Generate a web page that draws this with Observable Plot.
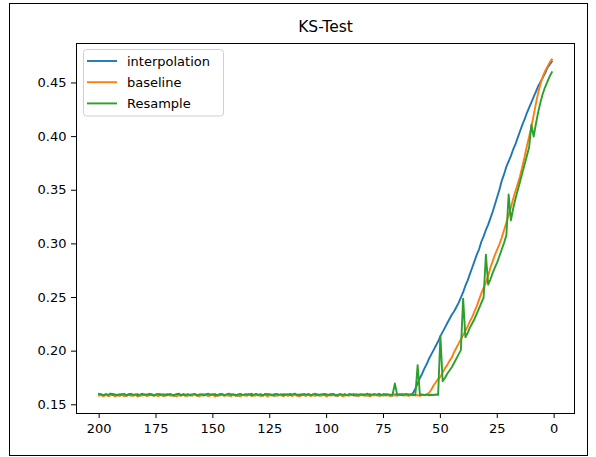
<!DOCTYPE html>
<html><head><meta charset="utf-8">
<script src="https://cdn.jsdelivr.net/npm/d3@7"></script>
<script src="https://cdn.jsdelivr.net/npm/@observablehq/plot@0.6"></script>
<style>
body{margin:0;background:#fff;}
#wrap{position:relative;width:596px;height:457px;}
#border{position:absolute;left:9px;top:3px;width:579px;height:453px;border:1px solid #000;box-sizing:border-box;pointer-events:none;}
</style></head>
<body><div id="wrap"><div id="border"></div></div>
<script>
const title = "KS-Test";
const seriesNames = ["interpolation", "baseline", "Resample"];
const colors = ["#1f77b4", "#ff7f0e", "#2ca02c"];
const xTicks = [200, 175, 150, 125, 100, 75, 50, 25, 0];
const yTicks = [0.15, 0.20, 0.25, 0.30, 0.35, 0.40, 0.45];
// x positions: 200 down to 1
const xValues = d3.range(200, 0, -1);

// interpolation (v = 200 .. 1)
const interpolation = [
0.1600,0.1594,0.1588,0.1597,0.1583,0.1591,0.1602,0.1589,0.1595,0.1586,
0.1598,0.1590,0.1584,0.1596,0.1601,0.1587,0.1593,0.1599,0.1585,0.1592,
0.1597,0.1588,0.1603,0.1591,0.1586,0.1595,0.1590,0.1599,0.1584,0.1593,
0.1600,0.1589,0.1594,0.1582,0.1597,0.1591,0.1587,0.1598,0.1593,0.1586,
0.1596,0.1590,0.1601,0.1585,0.1594,0.1589,0.1598,0.1592,0.1583,0.1596,
0.1591,0.1599,0.1587,0.1594,0.1602,0.1588,0.1593,0.1585,0.1597,0.1590,
0.1595,0.1584,0.1599,0.1592,0.1588,0.1596,0.1591,0.1603,0.1587,0.1594,
0.1589,0.1598,0.1585,0.1593,0.1600,0.1590,0.1595,0.1583,0.1597,0.1592,
0.1588,0.1599,0.1594,0.1586,0.1601,0.1591,0.1596,0.1589,0.1584,0.1598,
0.1593,0.1587,0.1600,0.1590,0.1595,0.1585,0.1597,0.1592,0.1589,0.1602,
0.1586,0.1594,0.1599,0.1588,0.1593,0.1584,0.1596,0.1591,0.1598,0.1587,
0.1595,0.1590,0.1601,0.1585,0.1594,0.1589,0.1597,0.1592,0.1586,0.1599,
0.1591,0.1596,0.1588,0.1603,0.1593,0.1587,0.1598,0.1590,0.1595,0.1584,
0.1597,0.1592,0.1589,0.1600,0.1594,0.1588,0.1596,0.1591,
0.161,0.165,0.170,0.175,0.179,0.184,0.188,0.193,0.197,0.201,
0.205,0.209,0.214,0.218,0.222,0.226,0.230,0.234,0.237,0.241,
0.245,0.250,0.255,0.261,0.266,0.272,0.278,0.284,0.290,0.295,
0.302,0.307,0.313,0.318,0.324,0.330,0.337,0.344,0.351,0.359,
0.365,0.372,0.377,0.382,0.388,0.393,0.399,0.405,0.411,0.416,
0.422,0.427,0.432,0.437,0.442,0.447,0.451,0.455,0.459,0.464,
0.467,0.470
];

// baseline (v = 200 .. 1)
const baseline = [
0.1585,0.1590,0.1579,0.1594,0.1582,0.1588,0.1596,0.1578,0.1591,0.1584,
0.1593,0.1580,0.1589,0.1597,0.1583,0.1587,0.1592,0.1577,0.1590,0.1586,
0.1595,0.1581,0.1588,0.1598,0.1584,0.1591,0.1579,0.1594,0.1587,0.1582,
0.1596,0.1589,0.1583,0.1592,0.1578,0.1590,0.1585,0.1597,0.1581,0.1588,
0.1593,0.1584,0.1599,0.1586,0.1580,0.1591,0.1587,0.1595,0.1582,0.1589,
0.1594,0.1578,0.1590,0.1585,0.1598,0.1583,0.1588,0.1592,0.1580,0.1596,
0.1586,0.1591,0.1579,0.1593,0.1588,0.1584,0.1597,0.1582,0.1590,0.1587,
0.1595,0.1581,0.1589,0.1594,0.1577,0.1591,0.1586,0.1598,0.1583,0.1588,
0.1592,0.1580,0.1596,0.1585,0.1590,0.1582,0.1594,0.1587,0.1579,0.1593,
0.1589,0.1584,0.1597,0.1581,0.1590,0.1586,0.1595,0.1583,0.1588,0.1592,
0.1578,0.1591,0.1585,0.1596,0.1582,0.1589,0.1594,0.1580,0.1587,0.1593,
0.1584,0.1598,0.1586,0.1590,0.1581,0.1595,0.1588,0.1583,0.1592,0.1579,
0.1590,0.1587,0.1596,0.1582,0.1589,0.1593,0.1585,0.1591,0.1580,0.1594,
0.1588,0.1584,0.1597,0.1590,0.1586,0.1592,0.1583,0.1589,0.1595,0.1587,
0.1591,0.1584,0.1593,0.1588,
0.160,0.161,0.164,0.168,0.171,0.174,0.176,0.180,0.184,0.187,
0.191,0.194,0.199,0.203,0.207,0.211,0.215,0.219,0.223,0.228,
0.232,0.237,0.242,0.248,0.254,0.259,0.264,0.270,0.278,0.284,
0.290,0.295,0.300,0.306,0.313,0.320,0.327,0.334,0.342,0.349,
0.356,0.363,0.372,0.381,0.391,0.400,0.409,0.420,0.431,0.441,
0.449,0.456,0.461,0.465,0.469,0.472
];

// Resample (v = 200 .. 1)
const resample = [
0.1602,0.1596,0.1590,0.1599,0.1593,0.1605,0.1591,0.1597,0.1588,0.1600,
0.1594,0.1603,0.1589,0.1596,0.1601,0.1592,0.1598,0.1587,0.1595,0.1603,
0.1590,0.1597,0.1593,0.1600,0.1588,0.1596,0.1602,0.1591,0.1598,0.1594,
0.1589,0.1601,0.1595,0.1592,0.1599,0.1604,0.1590,0.1596,0.1593,0.1600,
0.1587,0.1597,0.1602,0.1591,0.1595,0.1599,0.1589,0.1596,0.1603,0.1592,
0.1598,0.1594,0.1588,0.1601,0.1595,0.1590,0.1597,0.1604,0.1593,0.1599,
0.1586,0.1596,0.1601,0.1591,0.1598,0.1594,0.1600,0.1589,0.1595,0.1602,
0.1592,0.1597,0.1588,0.1603,0.1594,0.1599,0.1590,0.1596,0.1601,0.1593,
0.1598,0.1587,0.1595,0.1600,0.1591,0.1597,0.1604,0.1592,0.1596,0.1589,
0.1601,0.1594,0.1599,0.1590,0.1597,0.1603,0.1588,0.1595,0.1600,0.1593,
0.1598,0.1591,0.1596,0.1602,0.1589,0.1594,0.1599,0.1592,0.1597,0.1590,
0.1601,0.1595,0.1588,0.1598,0.1593,0.1600,0.1591,0.1596,0.1603,0.1590,
0.1595,0.1599,0.1592,0.1597,0.1589,0.1601,0.1594,0.1598,0.1591,0.1596,
0.1700,0.1593,0.1599,0.1590,0.1596,0.1601,0.1592,0.1597,0.1588,0.1594,
0.1870,0.1591,0.1596,0.1590,0.1595,0.1589,0.1594,0.1591,0.1596,0.1592,
0.214,0.172,0.175,0.179,0.182,0.185,0.189,0.193,0.197,0.201,
0.249,0.213,0.217,0.222,0.226,0.230,0.235,0.240,0.245,0.250,
0.290,0.262,0.267,0.273,0.278,0.283,0.289,0.295,0.301,0.308,
0.346,0.322,0.333,0.342,0.350,0.358,0.366,0.374,0.382,0.390,
0.411,0.400,0.412,0.423,0.432,0.440,0.446,0.451,0.456,0.460
];

const seriesValues = [interpolation, baseline, resample];
const rows = seriesValues.map((vals, k) =>
  vals.map((y, i) => ({x: xValues[i], y, series: seriesNames[k]})));

const plot = Plot.plot({
  width: 596,
  height: 457,
  marginLeft: 76,
  marginRight: 22,
  marginTop: 43,
  marginBottom: 44,
  style: {fontFamily: "'DejaVu Sans', sans-serif", fontSize: "13px", background: "transparent", color: "#000"},
  x: {domain: [209.95, -8.95]},
  y: {domain: [0.1419, 0.4868]},
  color: {domain: seriesNames, range: colors},
  marks: [
    ...rows.map(r => Plot.line(r, {x: "x", y: "y", stroke: "series", strokeWidth: 1.9, strokeLinejoin: "round", strokeLinecap: "square"})),
    Plot.frame({stroke: "#000", strokeWidth: 1}),
    Plot.axisX({ticks: xTicks, tickFormat: d => String(d), tickSize: 5, tickPadding: 5, label: null, fontSize: 13}),
    Plot.axisY({ticks: yTicks, tickFormat: d3.format(".2f"), tickSize: 5, tickPadding: 5, label: null, fontSize: 13}),
    Plot.text([title], {frameAnchor: "top", dy: -16, fontSize: 15.5, lineAnchor: "middle"})
  ]
});

// legend
const svg = d3.select(plot);
const lg = svg.append("g").attr("text-anchor", "start");
lg.append("rect").attr("x", 83.5).attr("y", 49.5).attr("width", 140).attr("height", 66.5)
  .attr("rx", 3).attr("fill", "#fff").attr("fill-opacity", 0.8).attr("stroke", "#d0d0d0");
seriesNames.forEach((name, k) => {
  const yy = 61 + k * 21.2;
  lg.append("line").attr("x1", 87).attr("x2", 117).attr("y1", yy).attr("y2", yy)
    .attr("stroke", colors[k]).attr("stroke-width", 1.9);
  lg.append("text").attr("x", 127).attr("y", yy).attr("dy", "0.35em")
    .attr("text-anchor", "start").attr("font-size", 13).attr("fill", "#000").text(name);
});

document.getElementById("wrap").prepend(plot);
</script>
</body></html>
